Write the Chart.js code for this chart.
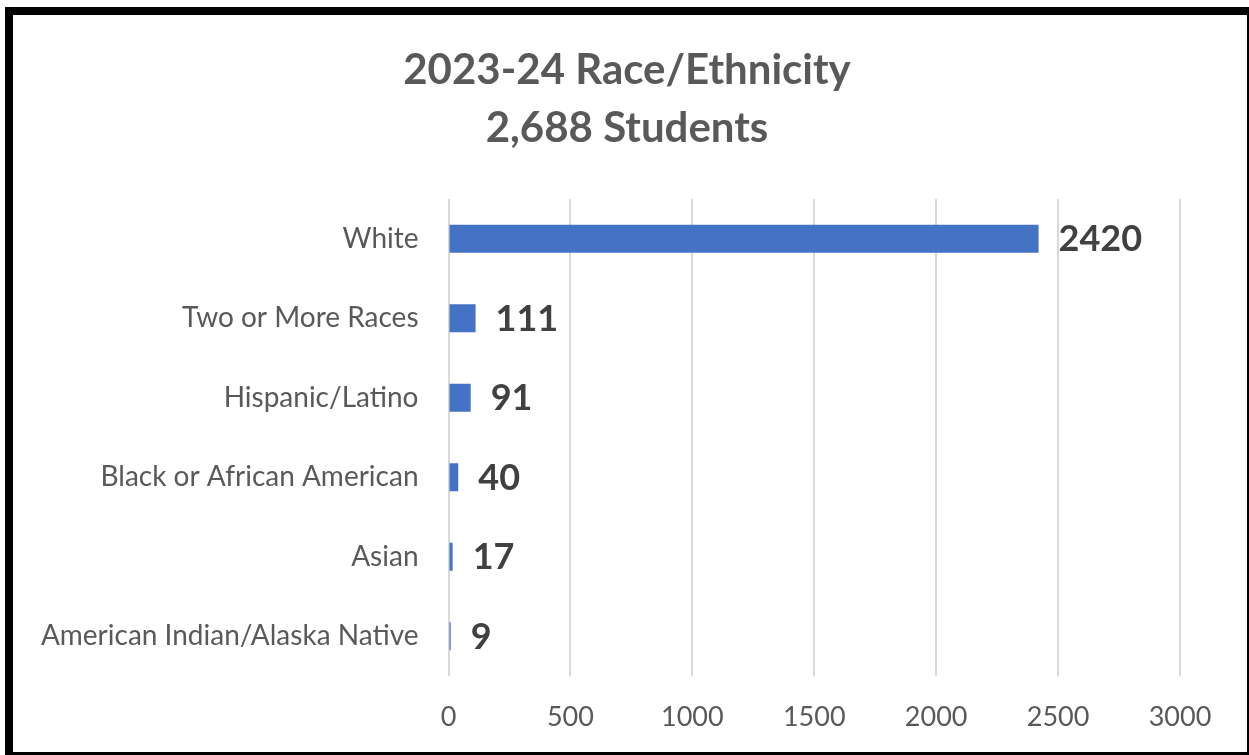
<!DOCTYPE html>
<html>
<head>
<meta charset="utf-8">
<script src="https://cdn.jsdelivr.net/npm/chart.js@4.4.1/dist/chart.umd.min.js"></script>
<style>
  html, body { margin: 0; padding: 0; background: #fff; overflow: hidden; }
  #wrap { position: relative; width: 1249px; height: 755px; }
  #frame {
    position: absolute; left: 5px; top: 7px; width: 1250px; height: 753px;
    border: 8px solid #000; box-sizing: border-box; pointer-events: none;
  }
</style>
</head>
<body>
<div id="wrap">
  <canvas id="raceChart" width="1249" height="755"></canvas>
  <div id="frame"></div>
</div>
<script>
// data
var categories = ['White', 'Two or More Races', 'Hispanic/Latino', 'Black or African American', 'Asian', 'American Indian/Alaska Native'];
var students = [2420, 111, 91, 40, 17, 9];
var titleLines = ['2023-24 Race/Ethnicity', '2,688 Students'];

var FONT = 'Lato, "Noto Sans", sans-serif';

// writes the value to the right of each bar
var valueLabels = {
  id: 'valueLabels',
  afterDatasetsDraw: function (chart) {
    var ctx = chart.ctx;
    var meta = chart.getDatasetMeta(0);
    ctx.save();
    ctx.font = 'bold 36px ' + FONT;
    ctx.fillStyle = '#404040';
    ctx.textAlign = 'left';
    ctx.textBaseline = 'middle';
    meta.data.forEach(function (bar, i) {
      ctx.fillText(String(students[i]), bar.x + 20, bar.y + 1);
    });
    ctx.restore();
  }
};

var ctx = document.getElementById('raceChart').getContext('2d');
var chart = new Chart(ctx, {
  type: 'bar',
  data: {
    labels: categories,
    datasets: [{
      label: 'Students',
      data: students,
      backgroundColor: '#4472C4',
      categoryPercentage: 1,
      barPercentage: 0.35
    }]
  },
  options: {
    indexAxis: 'y',
    responsive: false,
    animation: false,
    devicePixelRatio: 1,
    layout: { padding: { left: 20, right: 15, top: 0, bottom: 22 } },
    plugins: {
      legend: { display: false },
      tooltip: { enabled: false },
      title: {
        display: true,
        text: titleLines,
        color: '#595959',
        font: { family: FONT, size: 42, weight: 'bold', lineHeight: '58px' },
        padding: { top: 41, bottom: 42 }
      }
    },
    scales: {
      x: {
        min: 0,
        max: 3000,
        afterFit: function (scale) { scale.height = 57; },
        ticks: {
          stepSize: 500,
          color: '#595959',
          padding: 25,
          font: { family: FONT, size: 27 },
          callback: function (v) { return String(v); }
        },
        grid: { color: '#d9d9d9', lineWidth: 2, drawTicks: false },
        border: { display: false }
      },
      y: {
        afterFit: function (scale) { scale.width = 428.5; },
        ticks: {
          color: '#595959',
          padding: 30,
          font: { family: FONT, size: 28 }
        },
        grid: { display: false, drawTicks: false },
        border: { display: false }
      },
      // empty strip on the right so the plot ends where the original does
      rightGap: {
        type: 'linear',
        axis: 'y',
        position: 'right',
        afterFit: function (scale) { scale.width = 54; },
        ticks: { display: false },
        grid: { display: false, drawTicks: false },
        border: { display: false }
      }
    }
  },
  plugins: [valueLabels]
});
</script>
</body>
</html>
